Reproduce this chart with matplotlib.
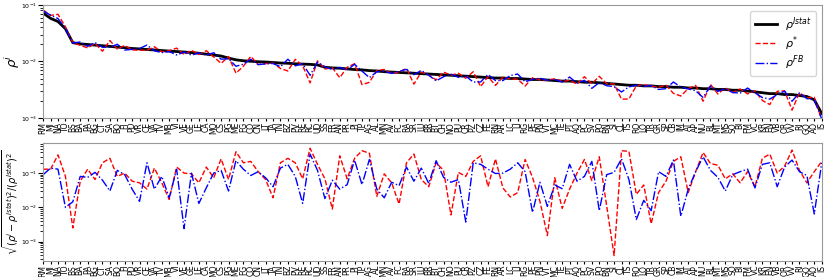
import numpy as np
import matplotlib
matplotlib.use("Agg")
import matplotlib.pyplot as plt

labels = ["RM","MI","NA","TO","BS","BA","PA","BG","CT","SA",
          "BO","FI","PD","VR","CE","VA","TV","MB","VI","VE",
          "GE","LE","CA","MO","CS","PG","ME","FG","CO","CN",
          "LT","TA","TN","BZ","PV","RE","RC","UD","SS","FR",
          "AN","PR","PI","TP","AG","AL","MN","AV","FC","RA",
          "SR","LU","BR","BT","CH","NO","PU","CR","PZ","CZ",
          "FE","RN","AR","LC","LI","RG","PE","PN","VT","MC",
          "TE","PT","AQ","PC","SV","PO","BN","SI","CL","TS",
          "RO","LO","TR","GR","SP","CB","IM","AT","AP","NU",
          "BL","MT","MS","SO","BI","FM","VC","KR","EN","VB",
          "OR","VV","RI","GO","AO","IS"]

rho_istat = [0.072,0.058,0.051,0.038,0.0215,0.0205,0.020,0.0195,0.019,0.0185,
             0.018,0.0175,0.017,0.0167,0.0163,0.016,0.0156,0.0153,0.015,0.0147,
             0.0144,0.014,0.0135,0.013,0.0125,0.0115,0.0107,0.0103,0.0101,0.0099,
             0.0098,0.0096,0.0094,0.0093,0.0091,0.0090,0.0089,0.0087,0.0079,0.0077,
             0.0076,0.0074,0.0072,0.0071,0.0069,0.0068,0.0066,0.0065,0.0064,0.0063,
             0.0062,0.0061,0.0060,0.0059,0.0058,0.0057,0.0056,0.0055,0.0054,0.0053,
             0.0052,0.0051,0.0051,0.0050,0.0050,0.0049,0.0048,0.0048,0.0047,0.0046,
             0.0045,0.0045,0.0044,0.0043,0.0043,0.0042,0.0041,0.0040,0.0039,0.0038,
             0.0038,0.0037,0.0037,0.0036,0.0036,0.0035,0.0035,0.0034,0.0034,0.0033,
             0.0033,0.0032,0.0032,0.0031,0.0031,0.0030,0.0029,0.0028,0.0027,0.0027,
             0.0026,0.0026,0.0025,0.0024,0.0021,0.0012]

rho_star = [0.0814,0.0655,0.0683,0.0411,0.02155,0.01931,0.0174,0.02077,0.0152,0.0235,
            0.01656,0.01925,0.01601,0.01583,0.01575,0.01824,0.01479,0.01556,0.01725,0.01323,
            0.01577,0.01327,0.01553,0.01205,0.00925,0.01225,0.00621,0.00824,0.01232,0.00881,
            0.00916,0.00942,0.00752,0.00679,0.01092,0.00839,0.00418,0.01027,0.00736,0.00777,
            0.00517,0.0079,0.00914,0.0039,0.00428,0.00694,0.00723,0.00616,0.00648,0.00756,
            0.00397,0.0065,0.00576,0.00472,0.0065,0.00573,0.00619,0.00506,0.00659,0.0036,
            0.00541,0.00377,0.00529,0.0049,0.00487,0.00368,0.00516,0.00473,0.004693,0.00494,
            0.004458,0.00465,0.00396,0.00538,0.00404,0.00546,0.004055,0.0039984,0.00215,0.00217,
            0.00371,0.00387,0.003688,0.0035,0.00381,0.00273,0.00245,0.00331,0.00377,0.00198,
            0.00393,0.00266,0.00342,0.00281,0.00326,0.00267,0.00302,0.00204,0.00173,0.00297,
            0.00302,0.00138,0.0028,0.00228,0.00233,0.000936]

rho_fb = [0.0785,0.0661,0.0576,0.0384,0.02119,0.02214,0.0185,0.02155,0.01782,0.01795,
          0.02016,0.01593,0.01642,0.01695,0.01956,0.01546,0.01435,0.01501,0.01305,0.014665,
          0.01296,0.01418,0.013,0.0143,0.011,0.01116,0.00824,0.00896,0.01096,0.00881,
          0.00908,0.00922,0.00808,0.01097,0.00837,0.00912,0.0057,0.00974,0.00804,0.00722,
          0.00786,0.00706,0.00893,0.00677,0.00518,0.00657,0.00673,0.00615,0.00668,0.00725,
          0.00584,0.00695,0.0057,0.00454,0.00537,0.00601,0.00524,0.00552,0.00432,0.00435,
          0.00588,0.00461,0.00459,0.00565,0.006,0.00436,0.004834,0.00506,0.00465,0.00481,
          0.00434,0.00531,0.00414,0.00464,0.00335,0.004234,0.00373,0.00358,0.00289,0.00355,
          0.003817,0.00364,0.00373,0.0032,0.00331,0.00434,0.00352,0.00328,0.00303,0.00231,
          0.0037,0.00296,0.0033,0.00282,0.00276,0.00339,0.00279,0.0023,0.00216,0.00259,
          0.00299,0.00198,0.00278,0.0022,0.00211,0.00096]

err_star = [0.13,0.13,0.34,0.081,0.0025,0.058,0.13,0.065,0.2,0.27,
            0.08,0.1,0.058,0.052,0.034,0.14,0.052,0.017,0.15,0.1,
            0.095,0.052,0.15,0.073,0.26,0.065,0.42,0.2,0.22,0.11,
            0.065,0.019,0.2,0.27,0.2,0.068,0.53,0.18,0.068,0.0089,
            0.32,0.068,0.27,0.45,0.38,0.021,0.095,0.052,0.0125,0.2,
            0.36,0.065,0.04,0.2,0.12,0.006,0.105,0.08,0.22,0.32,
            0.04,0.26,0.037,0.02,0.027,0.25,0.075,0.015,0.0015,0.073,
            0.0093,0.034,0.1,0.25,0.06,0.3,0.011,0.00039,0.45,0.43,
            0.024,0.045,0.0033,0.027,0.058,0.22,0.3,0.027,0.11,0.4,
            0.19,0.17,0.068,0.095,0.052,0.11,0.04,0.27,0.36,0.1,
            0.16,0.47,0.12,0.052,0.11,0.22]

err_fb = [0.09,0.14,0.13,0.01,0.0145,0.08,0.075,0.105,0.062,0.03,
          0.12,0.09,0.034,0.015,0.2,0.034,0.08,0.019,0.13,0.0024,
          0.1,0.013,0.037,0.1,0.12,0.03,0.23,0.13,0.085,0.11,
          0.073,0.04,0.14,0.18,0.08,0.013,0.36,0.12,0.018,0.062,
          0.034,0.046,0.24,0.046,0.25,0.034,0.019,0.054,0.043,0.15,
          0.058,0.14,0.05,0.23,0.075,0.054,0.065,0.0037,0.2,0.18,
          0.13,0.097,0.1,0.13,0.2,0.11,0.0071,0.054,0.0107,0.045,
          0.035,0.18,0.058,0.08,0.22,0.008,0.09,0.105,0.26,0.065,
          0.0044,0.016,0.008,0.11,0.08,0.24,0.0055,0.034,0.11,0.3,
          0.12,0.075,0.03,0.09,0.11,0.13,0.037,0.18,0.2,0.04,
          0.15,0.24,0.11,0.085,0.0064,0.2]

x = np.arange(len(labels))
fig = plt.figure(figsize=(8.3, 2.77), dpi=100)
ax1 = fig.add_axes([0.052, 0.574, 0.938, 0.408])
ax2 = fig.add_axes([0.052, 0.058, 0.938, 0.426])

ax1.plot(x, rho_istat, color="black", lw=2, label=r"$\rho^{Istat}$")
ax1.plot(x, rho_star, color="red", ls="--", lw=1, label=r"$\rho^{*}$")
ax1.plot(x, rho_fb, color="blue", ls="-.", lw=1, label=r"$\rho^{FB}$")
ax1.set_yscale("log")
ax1.set_ylim(1e-3, 1e-1)
ax1.set_ylabel(r"$\rho^i$", fontsize=9.5)
ax1.yaxis.set_label_coords(-0.027, 0.5)
ax1.legend(loc="upper right", fontsize=8, labelspacing=0.05,
           handlelength=2.0, borderpad=0.4, handletextpad=0.7)

ax2.plot(x, err_star, color="red", ls="--", lw=1)
ax2.plot(x, err_fb, color="blue", ls="-.", lw=1)
ax2.set_yscale("log")
ax2.set_ylabel(r"$\sqrt{(\rho^i-\rho^{Istat})^2/(\rho^{Istat})^2}$",
               fontsize=7)
ax2.yaxis.set_label_coords(-0.028, 0.5)

for ax in (ax1, ax2):
    ax.set_xlim(0, len(labels) - 1)
    ax.set_xticks(x)
    ax.set_xticklabels(labels, rotation=90, fontsize=5.5)
    ax.tick_params(axis="y", labelsize=4.5, pad=1)
    ax.tick_params(axis="x", length=2, pad=0.8)
    for s in ax.spines.values():
        s.set_color("#999999")

fig.savefig("out.png", dpi=100)
